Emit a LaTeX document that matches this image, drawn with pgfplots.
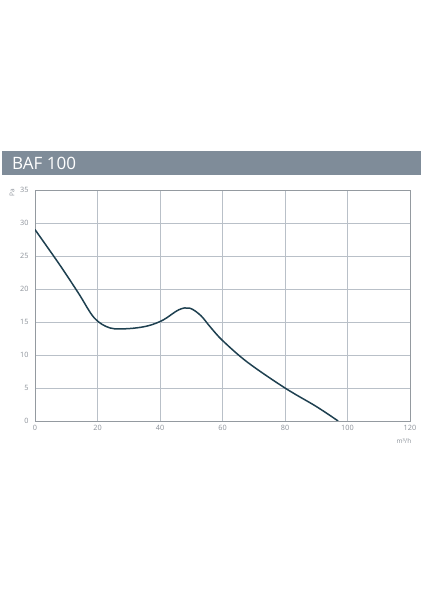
\documentclass[border=0pt]{standalone}
\usepackage{pgfplots}
\pgfplotsset{compat=1.18}
\usepackage{fontspec}
\setmainfont{Open Sans}
\definecolor{banner}{HTML}{7F8C99}
\definecolor{gridc}{HTML}{B9C0C8}
\definecolor{tickc}{HTML}{8A9098}
\definecolor{curve}{HTML}{1E4050}
\begin{document}
\begin{tikzpicture}[x=1pt,y=1pt]
\path[use as bounding box] (0,0) rectangle (424,600);
\fill[banner] (2,425) rectangle (421,449);
\node[anchor=base west,text=white,font=\fontsize{17}{17}\selectfont,inner sep=0pt] at (12,430) {BAF 100};
\begin{axis}[
  at={(35pt,179pt)}, anchor=origin,
  width=375pt, height=231pt, scale only axis,
  xmin=0, xmax=120, ymin=0, ymax=35,
  xtick={0,20,...,120}, ytick={0,5,...,35},
  grid=major,
  major grid style={gridc, line width=0.6pt},
  axis line style={gridc!80!black, line width=0.6pt},
  tick style={draw=none},
  ticklabel style={text=tickc, font=\fontsize{7.3}{7.3}\selectfont},
  /pgf/number format/assume math mode=true,
  xticklabel style={yshift=-1pt},
  yticklabel style={xshift=-3pt},
]
\addplot[curve, line width=1.5pt, smooth, tension=0.55] coordinates {
(0,29) (8,23.6) (14,19.3) (19,15.6) (24,14.1) (30,14) (36,14.4) (41,15.3) (46,16.85) (49.5,17.1) (53,16) (56,14.3) (60,12.2) (68,8.9) (80,5) (90,2.2) (97,0)
};
\end{axis}
\node[text=tickc,font=\fontsize{6.5}{6.5}\selectfont,rotate=90,anchor=east,inner sep=0pt] at (12,411) {Pa};
\node[text=tickc,font=\fontsize{6.5}{6.5}\selectfont,anchor=center,inner sep=0pt] at (404,159) {m³/h};
\end{tikzpicture}
\end{document}
